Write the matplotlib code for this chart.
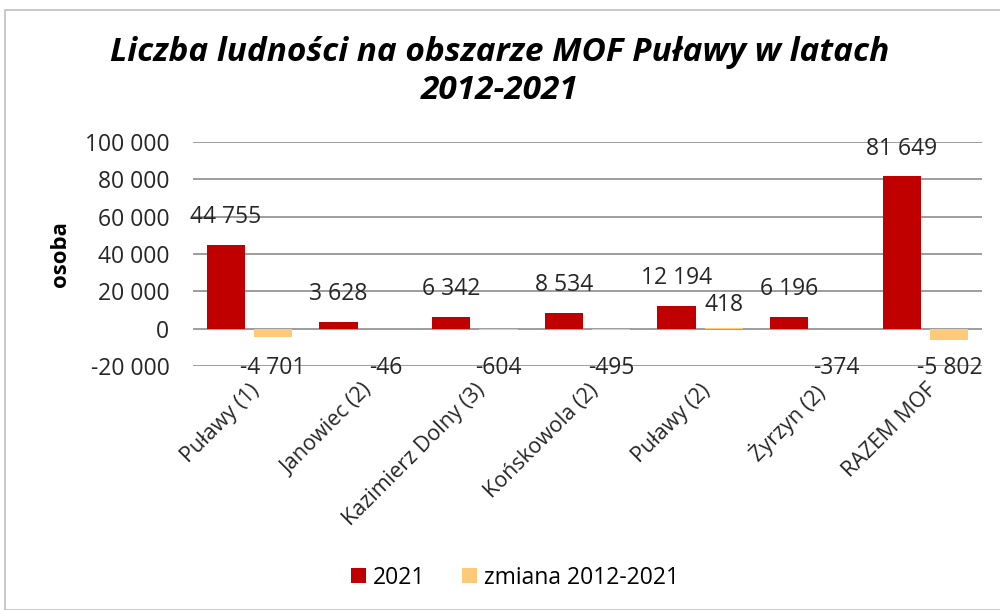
import matplotlib.pyplot as plt
import numpy as np
from matplotlib.patches import Rectangle

categories = ["Puławy (1)", "Janowiec (2)", "Kazimierz Dolny (3)", "Końskowola (2)",
              "Puławy (2)", "Żyrzyn (2)", "RAZEM MOF"]
pop_2021 = [44755, 3628, 6342, 8534, 12194, 6196, 81649]
change = [-4701, -46, -604, -495, 418, -374, -5802]
yticks = [-20000, 0, 20000, 40000, 60000, 80000, 100000]


def fmt(v):
    return f"{v:,}".replace(",", " ")


plt.rcParams["font.family"] = ["Open Sans", "DejaVu Sans"]

fig = plt.figure(figsize=(10, 6.1), dpi=100)
fig.patches.append(Rectangle((0.005, 0.0), 1.2, 0.983, transform=fig.transFigure,
                             fill=False, edgecolor="#bfbfbf", linewidth=1.2))
ax = fig.add_axes([0.193, 0.40, 0.789, 0.367])

x = np.arange(len(categories))
w = 0.34
red = "#C00000"
yellow = "#FFC97A"
ax.bar(x - 0.21, pop_2021, w, color=red, label="2021", zorder=3)
ax.bar(x + 0.21, change, w, color=yellow, label="zmiana 2012-2021", zorder=3)

# data labels roughly where Excel put them
for xi, v in zip(x, pop_2021):
    ax.text(xi - 0.21, v + 8500, fmt(v), ha="center", va="bottom", fontsize=16.5, color="#262626")
for xi, v in zip(x, change):
    if v > 0:
        ax.text(xi + 0.21, v + 12500, fmt(v), ha="center", va="center", fontsize=16.5, color="#262626")
    else:
        ax.text(xi + 0.21, -21000, fmt(v), ha="center", va="center", fontsize=16.5, color="#262626")

ax.set_ylim(-20000, 100000)
ax.set_xlim(-0.5, len(categories) - 0.5)
ax.set_yticks(yticks)
ax.set_yticklabels([fmt(t) for t in yticks], fontsize=16.5, color="#262626")
ax.set_xticks(x)
ax.set_xticklabels(categories, rotation=45, ha="right", rotation_mode="anchor",
                   fontsize=15.5, color="#262626")
ax.tick_params(length=0, pad=17, axis="y")
ax.tick_params(length=0, pad=10, axis="x")
ax.grid(axis="y", color="#8c8c8c", linewidth=1.2, zorder=0)
for s in ax.spines.values():
    s.set_visible(False)

ax.set_ylabel("osoba", fontsize=16, fontweight="bold", labelpad=10)

fig.text(0.5, 0.882, "Liczba ludności na obszarze MOF Puławy w latach\n2012-2021",
         ha="center", va="center", fontsize=24, fontweight="bold", style="italic",
         linespacing=1.2)

fig.legend(loc="center", bbox_to_anchor=(0.515, 0.053), ncol=2, frameon=False,
           fontsize=16.5, handlelength=0.65, handleheight=0.65, columnspacing=1.6,
           handletextpad=0.3)

fig.savefig("out.png", dpi=100)
